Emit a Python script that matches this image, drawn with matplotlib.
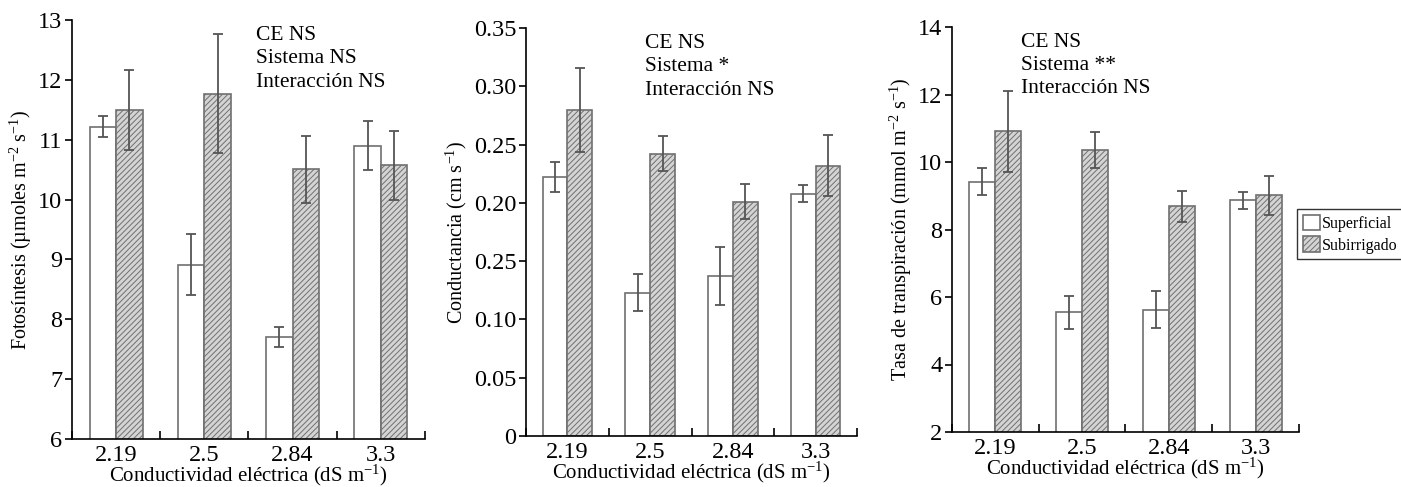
import matplotlib
matplotlib.use("Agg")
import matplotlib.pyplot as plt
import numpy as np

plt.rcParams["font.family"] = ["Liberation Serif", "DejaVu Serif"]
plt.rcParams["mathtext.fontset"] = "custom"
plt.rcParams["mathtext.rm"] = "Liberation Serif"
plt.rcParams["mathtext.it"] = "Liberation Serif:italic"
plt.rcParams["hatch.color"] = "#666666"
plt.rcParams["hatch.linewidth"] = 0.7

# Data
categories = ["2.19", "2.5", "2.84", "3.3"]
series_names = ["Superficial", "Subirrigado"]

foto_sup = [11.22, 8.91, 7.70, 10.90]
foto_sup_err = [0.17, 0.51, 0.17, 0.41]
foto_sub = [11.49, 11.77, 10.51, 10.57]
foto_sub_err = [0.67, 1.00, 0.56, 0.57]

cond_sup = [0.222, 0.123, 0.137, 0.208]
cond_sup_err = [0.013, 0.016, 0.025, 0.007]
cond_sub = [0.280, 0.242, 0.201, 0.232]
cond_sub_err = [0.036, 0.015, 0.015, 0.026]

trans_sup = [9.41, 5.55, 5.62, 8.86]
trans_sup_err = [0.40, 0.49, 0.55, 0.26]
trans_sub = [10.91, 10.36, 8.69, 9.01]
trans_sub_err = [1.20, 0.53, 0.46, 0.58]

cond_ticks = [0, 0.05, 0.10, 0.15, 0.20, 0.25, 0.30, 0.35]
cond_ticklabels = ["0", "0.05", "0.10", "0.25", "0.20", "0.25", "0.30", "0.35"]

fig = plt.figure(figsize=(14.01, 4.87), dpi=100)
W, H = 1401, 487

def make_ax(left, right, top, bottom):
    return fig.add_axes([left / W, 1 - bottom / H, (right - left) / W, (bottom - top) / H])

axes = [make_ax(72, 425, 20, 439), make_ax(526, 857, 28, 436), make_ax(952, 1299, 27, 432)]

sup_lbl = r"$^{\mathrm{-1}}$"
panels = [
    (foto_sup, foto_sup_err, foto_sub, foto_sub_err, (6, 13),
     "Fotosíntesis (µmoles m" + r"$^{\mathrm{-2}}$" + " s" + sup_lbl + ")",
     ["CE NS", "Sistema NS", "Interacción NS"]),
    (cond_sup, cond_sup_err, cond_sub, cond_sub_err, (0, 0.35),
     "Conductancia (cm s" + sup_lbl + ")", ["CE NS", "Sistema *", "Interacción NS"]),
    (trans_sup, trans_sup_err, trans_sub, trans_sub_err, (2, 14),
     "Tasa de transpiración (mmol m" + r"$^{\mathrm{-2}}$" + " s" + sup_lbl + ")",
     ["CE NS", "Sistema **", "Interacción NS"]),
]

x = np.arange(len(categories))
width = 0.3
err_kw = dict(ecolor="#555555", elinewidth=1.3, capsize=3.5, capthick=1.3)
note_x = [0.52, 0.36, 0.2]

for i, (ax, (sup, sup_e, sub, sub_e, ylim, ylabel, notes)) in enumerate(zip(axes, panels)):
    b1 = ax.bar(x - width / 2, sup, width, yerr=sup_e, color="white", edgecolor="#707070",
                linewidth=1.2, error_kw=err_kw, label=series_names[0])
    b2 = ax.bar(x + width / 2, sub, width, yerr=sub_e, color="#d4d4d4", edgecolor="#707070",
                hatch="//////", linewidth=1.2, error_kw=err_kw, label=series_names[1])
    ax.set_ylim(*ylim)
    ax.set_xlim(-0.5, len(categories) - 0.5)
    ax.set_xticks(x)
    ax.set_xticklabels(categories)
    ax.set_xticks(np.arange(len(categories) + 1) - 0.5, minor=True)
    ax.tick_params(axis="x", which="major", length=0, labelsize=17.5, pad=4)
    ax.tick_params(axis="x", which="minor", length=6, direction="in", width=1.2)
    ax.tick_params(axis="y", labelsize=17.5, length=5, width=1.2, pad=2)
    for s in ["top", "right"]:
        ax.spines[s].set_visible(False)
    for s in ["left", "bottom"]:
        ax.spines[s].set_linewidth(1.2)
    ax.set_xlabel("Conductividad eléctrica (dS m" + sup_lbl + ")", fontsize=15, labelpad=-2)
    ax.set_ylabel(ylabel, fontsize=14.5, labelpad=3)
    ax.text(note_x[i], 0.985, "\n".join(notes), transform=ax.transAxes, va="top", ha="left",
            fontsize=15.5, linespacing=1.3)
    if i == 1:
        ax.set_yticks(cond_ticks)
        ax.set_yticklabels(cond_ticklabels)

leg = axes[2].legend(handles=[b1, b2], loc="upper left", bbox_to_anchor=(1297 / W, 1 - 209 / H),
                     bbox_transform=fig.transFigure, fontsize=11.5, frameon=True, fancybox=False,
                     handlelength=1.1, handleheight=1.1, handletextpad=0.1, borderpad=0.35,
                     labelspacing=0.3, borderaxespad=0)
leg.get_frame().set_edgecolor("black")
leg.get_frame().set_linewidth(1.0)

fig.savefig("out.png", dpi=100)
